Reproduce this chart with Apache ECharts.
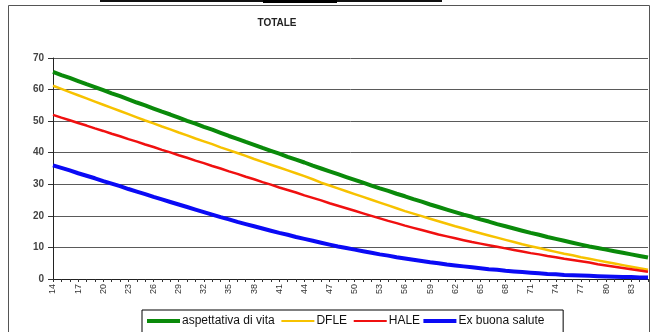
<!DOCTYPE html>
<html>
<head>
<meta charset="utf-8">
<script src="https://cdn.jsdelivr.net/npm/echarts@6/dist/echarts.min.js"></script>
<style>
  html, body { margin: 0; padding: 0; background: #fff; }
  #chart { width: 651px; height: 332px; }
</style>
</head>
<body>
<div id="chart"></div>
<script>
// Età (anni) sull'asse orizzontale
const ages = [];
for (let a = 14; a <= 85; a++) ages.push(String(a));

// Anni attesi per età
const aspettativaDiVita = [
  65.6, 64.6, 63.7, 62.7, 61.7, 60.8, 59.8, 58.8, 57.9, 56.9,
  55.9, 55.0, 54.0, 53.0, 52.1, 51.1, 50.1, 49.2, 48.2, 47.3,
  46.3, 45.3, 44.4, 43.4, 42.5, 41.5, 40.6, 39.7, 38.7, 37.8,
  36.9, 35.9, 35.0, 34.1, 33.2, 32.3, 31.4, 30.5, 29.6, 28.7,
  27.9, 27.0, 26.2, 25.3, 24.5, 23.6, 22.8, 22.0, 21.2, 20.4,
  19.7, 18.9, 18.2, 17.4, 16.7, 16.0, 15.3, 14.6, 14.0, 13.3,
  12.7, 12.1, 11.5, 10.9, 10.3, 9.8, 9.3, 8.8, 8.3, 7.8,
  7.3, 6.8
];
const dfle = [
  61.2, 60.2, 59.2, 58.2, 57.2, 56.2, 55.2, 54.2, 53.2, 52.2,
  51.2, 50.2, 49.3, 48.3, 47.4, 46.4, 45.5, 44.5, 43.6, 42.7,
  41.7, 40.8, 39.9, 39.0, 38.0, 37.1, 36.2, 35.3, 34.4, 33.5,
  32.6, 31.6, 30.5, 29.6, 28.7, 27.8, 26.9, 26.0, 25.1, 24.2,
  23.3, 22.4, 21.5, 20.7, 19.9, 19.1, 18.3, 17.5, 16.7, 16.0,
  15.2, 14.5, 13.8, 13.1, 12.4, 11.7, 11.0, 10.4, 9.8, 9.2,
  8.6, 8.0, 7.5, 6.9, 6.4, 5.9, 5.4, 4.9, 4.4, 3.9,
  3.4, 2.9
];
const hale = [
  52.0, 51.1, 50.3, 49.4, 48.6, 47.7, 46.9, 46.0, 45.2, 44.3,
  43.5, 42.6, 41.8, 40.9, 40.1, 39.2, 38.4, 37.5, 36.7, 35.8,
  35.0, 34.1, 33.3, 32.4, 31.6, 30.7, 29.9, 29.0, 28.2, 27.4,
  26.5, 25.7, 24.9, 24.0, 23.2, 22.4, 21.6, 20.8, 20.0, 19.2,
  18.4, 17.7, 16.9, 16.2, 15.5, 14.8, 14.1, 13.5, 12.9, 12.3,
  11.7, 11.2, 10.7, 10.2, 9.7, 9.2, 8.7, 8.2, 7.8, 7.3,
  6.9, 6.4, 6.0, 5.6, 5.2, 4.7, 4.3, 3.9, 3.5, 3.1,
  2.7, 2.3
];
const exBuonaSalute = [
  36.0, 35.2, 34.4, 33.5, 32.7, 31.9, 31.0, 30.2, 29.4, 28.5,
  27.7, 26.9, 26.0, 25.2, 24.4, 23.6, 22.8, 22.0, 21.2, 20.4,
  19.6, 18.9, 18.1, 17.4, 16.7, 16.0, 15.3, 14.6, 14.0, 13.3,
  12.7, 12.1, 11.5, 10.9, 10.3, 9.8, 9.3, 8.8, 8.3, 7.8,
  7.4, 6.9, 6.5, 6.1, 5.7, 5.3, 5.0, 4.6, 4.3, 4.0,
  3.7, 3.4, 3.1, 2.9, 2.6, 2.4, 2.2, 2.0, 1.8, 1.6,
  1.5, 1.3, 1.2, 1.1, 1.0, 0.9, 0.8, 0.7, 0.6, 0.6,
  0.5, 0.5
];

const chart = echarts.init(document.getElementById('chart'), null, { renderer: 'canvas' });
const font = 'Liberation Sans, Arial, sans-serif';

// Legend keys: a horizontal bar inside a 33x12 box (thick or thin)
const thickKey = 'path://M0,0M33,12M0,4H33V8H0Z';
const thinKey = 'path://M0,0M33,12M0,5H33V7H0Z';

// Trailing spaces after each legend label, to spread the entries
const legendTrail = {
  'aspettativa di vita': '  ',
  'DFLE': '  ',
  'HALE': ' ',
  'Ex buona salute': '     '
};

function line(name, data, color, width) {
  return {
    name, type: 'line', data,
    symbol: 'none', smooth: false,
    lineStyle: { color, width },
    itemStyle: { color },
    z: 3
  };
}

chart.setOption({
  animation: false,
  backgroundColor: '#fff',
  title: {
    text: 'TOTALE',
    left: 272, top: 13,
    textAlign: 'center',
    textStyle: { fontFamily: font, fontSize: 10, fontWeight: 'bold', color: '#222' }
  },
  graphic: [
    { type: 'rect', shape: { x: 8.5, y: 5.5, width: 641, height: 400 },
      style: { fill: 'none', stroke: '#555', lineWidth: 1 }, z: 0 },
    { type: 'rect', shape: { x: 100, y: 0, width: 342, height: 2 },
      style: { fill: '#111' }, z: 0 },
    { type: 'rect', shape: { x: 263, y: 0, width: 74, height: 3 },
      style: { fill: '#000' }, z: 0 }
  ],
  legend: {
    left: 142, top: 310,
    itemGap: 0,
    itemWidth: 33, itemHeight: 12,
    padding: [5, 2, 8, 5],
    borderColor: '#000', borderWidth: 1,
    formatter: name => name + legendTrail[name],
    textStyle: { fontFamily: font, fontSize: 12, color: '#111', padding: [0, 0, 0, -3] },
    data: [
      { name: 'aspettativa di vita', icon: thickKey },
      { name: 'DFLE', icon: thinKey },
      { name: 'HALE', icon: thinKey },
      { name: 'Ex buona salute', icon: thickKey }
    ]
  },
  grid: { left: 53, right: 3, top: 58, bottom: 53 },
  xAxis: {
    type: 'category',
    data: ages,
    boundaryGap: false,
    axisLine: { lineStyle: { color: '#222', width: 1 } },
    axisTick: { show: true, interval: 0, length: 3, lineStyle: { color: '#333' } },
    axisLabel: {
      interval: 2, rotate: 90,
      fontFamily: font, fontSize: 9, color: '#333', margin: 5
    },
    splitLine: { show: false }
  },
  yAxis: {
    type: 'value',
    min: 0, max: 70, interval: 10,
    axisLine: { show: true, lineStyle: { color: '#222', width: 1 } },
    axisTick: { show: true, length: 5, lineStyle: { color: '#333' } },
    axisLabel: { fontFamily: font, fontSize: 10, fontWeight: 'bold', color: '#444', margin: 9 },
    splitLine: { show: true, lineStyle: { color: '#5a5a5a', width: 1 } }
  },
  series: [
    line('aspettativa di vita', aspettativaDiVita, '#0a8a0a', 4),
    line('DFLE', dfle, '#f7c200', 2.5),
    line('HALE', hale, '#f01010', 2.5),
    line('Ex buona salute', exBuonaSalute, '#0a0af5', 4)
  ]
});
</script>
</body>
</html>
